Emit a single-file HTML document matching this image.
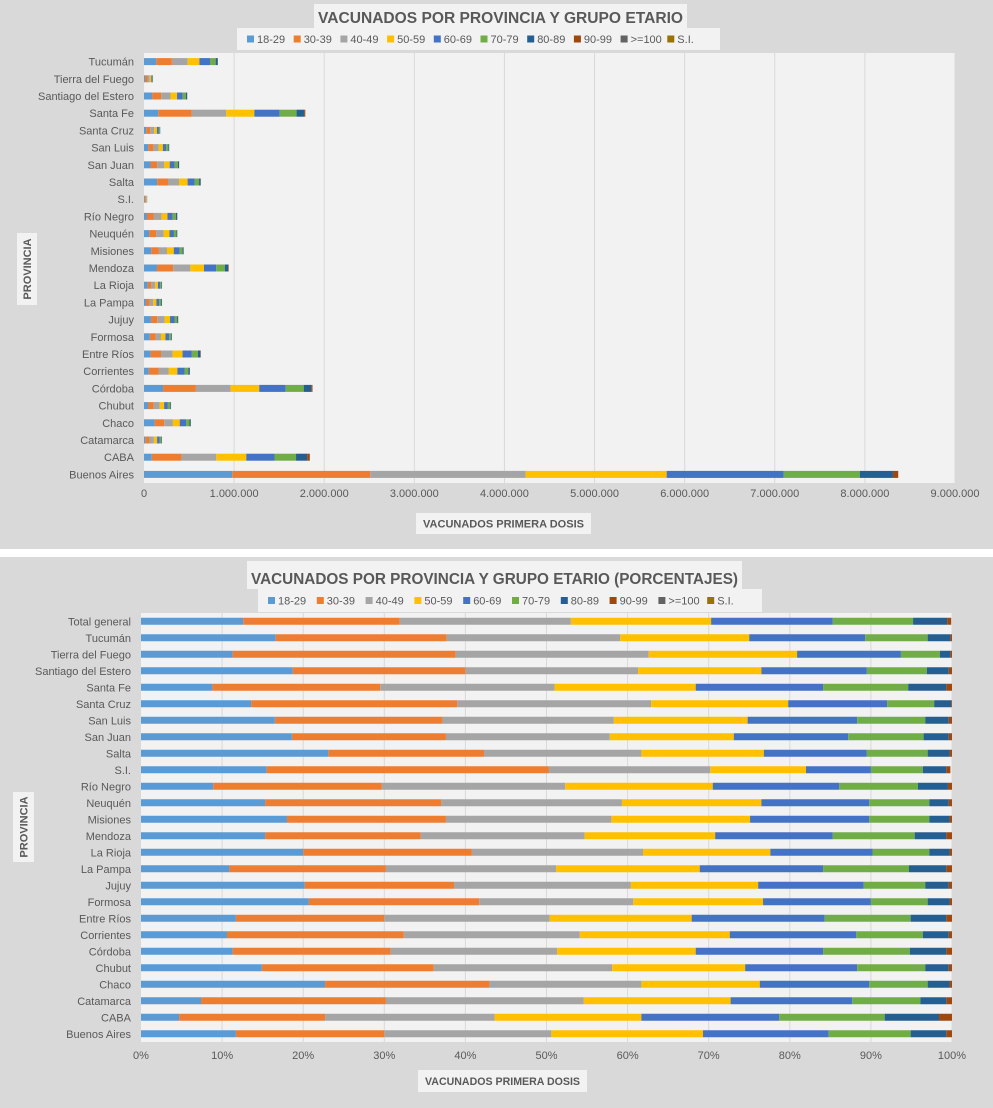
<!DOCTYPE html>
<html><head><meta charset="utf-8"><style>
html,body{margin:0;padding:0;background:#fff}
svg{display:block;font-family:"Liberation Sans",sans-serif}
</style></head><body>
<svg id="svg" width="993" height="1108" viewBox="0 0 993 1108">
<rect x="0" y="0" width="993" height="549" fill="#d9d9d9"/>
<rect x="0" y="557" width="993" height="551" fill="#d9d9d9"/>
<g id="top"></g>
<g id="bot"></g>
</svg>
<script>
const seriesNames = ["18-29","30-39","40-49","50-59","60-69","70-79","80-89","90-99",">=100","S.I."];
const seriesColors = ["#5b9bd5","#ed7d31","#a5a5a5","#ffc000","#4472c4","#70ad47","#255e91","#9e480e","#636363","#997300"];
const pctCategories = ["Total general","Tucumán","Tierra del Fuego","Santiago del Estero","Santa Fe","Santa Cruz","San Luis","San Juan","Salta","S.I.","Río Negro","Neuquén","Misiones","Mendoza","La Rioja","La Pampa","Jujuy","Formosa","Entre Ríos","Corrientes","Córdoba","Chubut","Chaco","Catamarca","CABA","Buenos Aires"];
// cumulative percentage boundaries per row (end of 18-29 ... end of 80-89, end of 90-99)
const pctCumulative = [
[12.6,31.9,53.0,70.3,85.3,95.2,99.4,99.9],
[16.6,37.7,59.1,75.0,89.3,97.0,99.8,100],
[11.3,38.8,62.6,80.9,93.7,98.5,99.8,100],
[18.7,40.0,61.3,76.5,89.5,96.9,99.6,100],
[8.8,29.5,51.0,68.4,84.1,94.6,99.3,100],
[13.6,39.0,62.9,79.8,92.0,97.8,99.9,100],
[16.5,37.2,58.3,74.8,88.3,96.7,99.6,100],
[18.6,37.6,57.8,73.1,87.2,96.5,99.6,100],
[23.1,42.3,61.7,76.8,89.5,97.0,99.7,100],
[15.5,50.3,70.2,82.0,90.0,96.4,99.3,99.8],
[8.9,29.7,52.3,70.5,86.1,95.8,99.5,100],
[15.3,37.0,59.3,76.5,89.8,97.2,99.6,100],
[18.0,37.6,58.0,75.1,89.8,97.2,99.7,100],
[15.3,34.5,54.7,70.8,85.3,95.4,99.3,100],
[20.0,40.8,61.9,77.6,90.2,97.2,99.7,100],
[10.9,30.2,51.2,68.9,84.1,94.7,99.3,100],
[20.2,38.6,60.4,76.1,89.1,96.7,99.6,100],
[20.7,41.7,60.7,76.7,90.0,97.0,99.7,100],
[11.7,30.0,50.4,67.9,84.3,94.9,99.3,100],
[10.6,32.4,54.1,72.6,88.2,96.4,99.6,100],
[11.3,30.8,51.3,68.4,84.1,94.8,99.3,100],
[14.9,36.1,58.1,74.5,88.3,96.7,99.6,100],
[22.7,43.0,61.7,76.3,89.8,97.0,99.7,100],
[7.4,30.2,54.6,72.7,87.7,96.1,99.3,100],
[4.7,22.7,43.6,61.7,78.7,91.7,98.4,100],
[11.7,30.0,50.6,69.3,84.8,94.9,99.3,100]];
const absCategories = pctCategories.slice(1);
const absTotals = [820000,100000,480000,1790000,180000,280000,390000,630000,35000,370000,370000,440000,940000,200000,200000,380000,310000,630000,510000,1870000,300000,520000,200000,1840000,8370000];
const absTicks = [0,1000000,2000000,3000000,4000000,5000000,6000000,7000000,8000000,9000000];
const absTickLabels = ["0","1.000.000","2.000.000","3.000.000","4.000.000","5.000.000","6.000.000","7.000.000","8.000.000","9.000.000"];
const pctTicks = [0,10,20,30,40,50,60,70,80,90,100];
const pctTickLabels = ["0%","10%","20%","30%","40%","50%","60%","70%","80%","90%","100%"];

const NS="http://www.w3.org/2000/svg";
function mk(parent,tag,attrs,text){const e=document.createElementNS(NS,tag);for(const k in attrs)e.setAttribute(k,attrs[k]);if(text!==undefined)e.textContent=text;parent.appendChild(e);return e;}
function segs(cum){const s=[];let p=0;cum.forEach(c=>{s.push(c-p);p=c;});return s;}

function drawChart(g,cfg){
  const {x0,x1,y0,y1,cats,rows,ticks,tickLabels,xmax,barH,title,titleBox,legendBox,yTitleBox,xTitleBox,tickY}=cfg;
  const xs=v=>x0+(v/xmax)*(x1-x0);
  const band=(y1-y0)/cats.length;
  let r=mk(g,'rect',{x:x0,y:y0,width:x1-x0,height:y1-y0,fill:'#f2f2f2'});
  
  
  ticks.forEach((t,i)=>{
    if(i>0){let l=mk(g,'line',{x1:xs(t),x2:xs(t),y1:y0,y2:y1,stroke:'#d9d9d9','stroke-width':1});
    
    }
    let tx=mk(g,'text',{x:xs(t),y:tickY,'font-size':11,fill:'#595959','text-anchor':'middle'},tickLabels[i]);
    
    
  });
  cats.forEach((c,i)=>{
    const cy=y0+band*(i+0.5);
    let t=mk(g,'text',{x:x0-10,y:cy+4,'font-size':11,fill:'#595959','text-anchor':'end'},c);
    
    
    let acc=0;
    rows[i].forEach((v,k)=>{
      const w=xs(acc+v)-xs(acc);
      let b=mk(g,'rect',{x:xs(acc),y:cy-barH/2,width:Math.max(w,0),height:barH,fill:seriesColors[k]});
      
      
      acc+=v;
    });
  });
  // title
  let tb=mk(g,'rect',{x:titleBox[0],y:titleBox[1],width:titleBox[2],height:titleBox[3],fill:'#f2f2f2'});
  
  
  let tt=mk(g,'text',{x:titleBox[0]+titleBox[2]/2,y:titleBox[1]+titleBox[3]-5,'font-size':16,'font-weight':'bold',fill:'#595959','text-anchor':'middle',textLength:titleBox[2]-8,lengthAdjust:'spacingAndGlyphs'},title);
  
  
  // legend
  let lb=mk(g,'rect',{x:legendBox[0],y:legendBox[1],width:legendBox[2],height:legendBox[3],fill:'#f2f2f2'});
  
  
  const step=(legendBox[2]-16)/seriesNames.length;
  seriesNames.forEach((n,k)=>{
    const lx=legendBox[0]+10+k*step, ly=legendBox[1]+legendBox[3]/2;
    let sw=mk(g,'rect',{x:lx,y:ly-3.5,width:7,height:7,fill:seriesColors[k]});
    
    
    let lt=mk(g,'text',{x:lx+10,y:ly+4,'font-size':11,fill:'#595959'},n);
    
    
  });
  // y title
  let yb=mk(g,'rect',{x:yTitleBox[0],y:yTitleBox[1],width:yTitleBox[2],height:yTitleBox[3],fill:'#f2f2f2'});
  
  
  const ycx=yTitleBox[0]+yTitleBox[2]/2+4, ycy=yTitleBox[1]+yTitleBox[3]/2;
  let yt=mk(g,'text',{x:ycx,y:ycy,'font-size':11,'font-weight':'bold',fill:'#595959','text-anchor':'middle',transform:`rotate(-90 ${ycx} ${ycy})`},'PROVINCIA');
  
  
  // x title
  let xb=mk(g,'rect',{x:xTitleBox[0],y:xTitleBox[1],width:xTitleBox[2],height:xTitleBox[3],fill:'#f2f2f2'});
  
  
  let xt=mk(g,'text',{x:xTitleBox[0]+xTitleBox[2]/2,y:xTitleBox[1]+xTitleBox[3]/2+4,'font-size':11,'font-weight':'bold',fill:'#595959','text-anchor':'middle',textLength:xTitleBox[2]-14,lengthAdjust:'spacingAndGlyphs'},'VACUNADOS PRIMERA  DOSIS');
  
  
}

const absRows=absTotals.map((t,i)=>segs(pctCumulative[i+1]).map(p=>t*p/100));
drawChart(document.getElementById('top'),{x0:144,x1:955,y0:53,y1:483,cats:absCategories,rows:absRows,ticks:absTicks,tickLabels:absTickLabels,xmax:9000000,barH:7,
 title:'VACUNADOS POR PROVINCIA Y GRUPO ETARIO',titleBox:[314,4,373,24],legendBox:[237,28,483,22],yTitleBox:[17,233,20,72],xTitleBox:[416,513,175,21],tickY:497});
const pctRows=pctCumulative.map(segs);
drawChart(document.getElementById('bot'),{x0:141,x1:952,y0:613,y1:1042,cats:pctCategories,rows:pctRows,ticks:pctTicks,tickLabels:pctTickLabels,xmax:100,barH:7,
 title:'VACUNADOS POR PROVINCIA Y GRUPO ETARIO (PORCENTAJES)',titleBox:[247,561,495,28],legendBox:[258,589,504,23],yTitleBox:[13,792,21,70],xTitleBox:[418,1070,169,22],tickY:1059});
</script>
</body></html>
